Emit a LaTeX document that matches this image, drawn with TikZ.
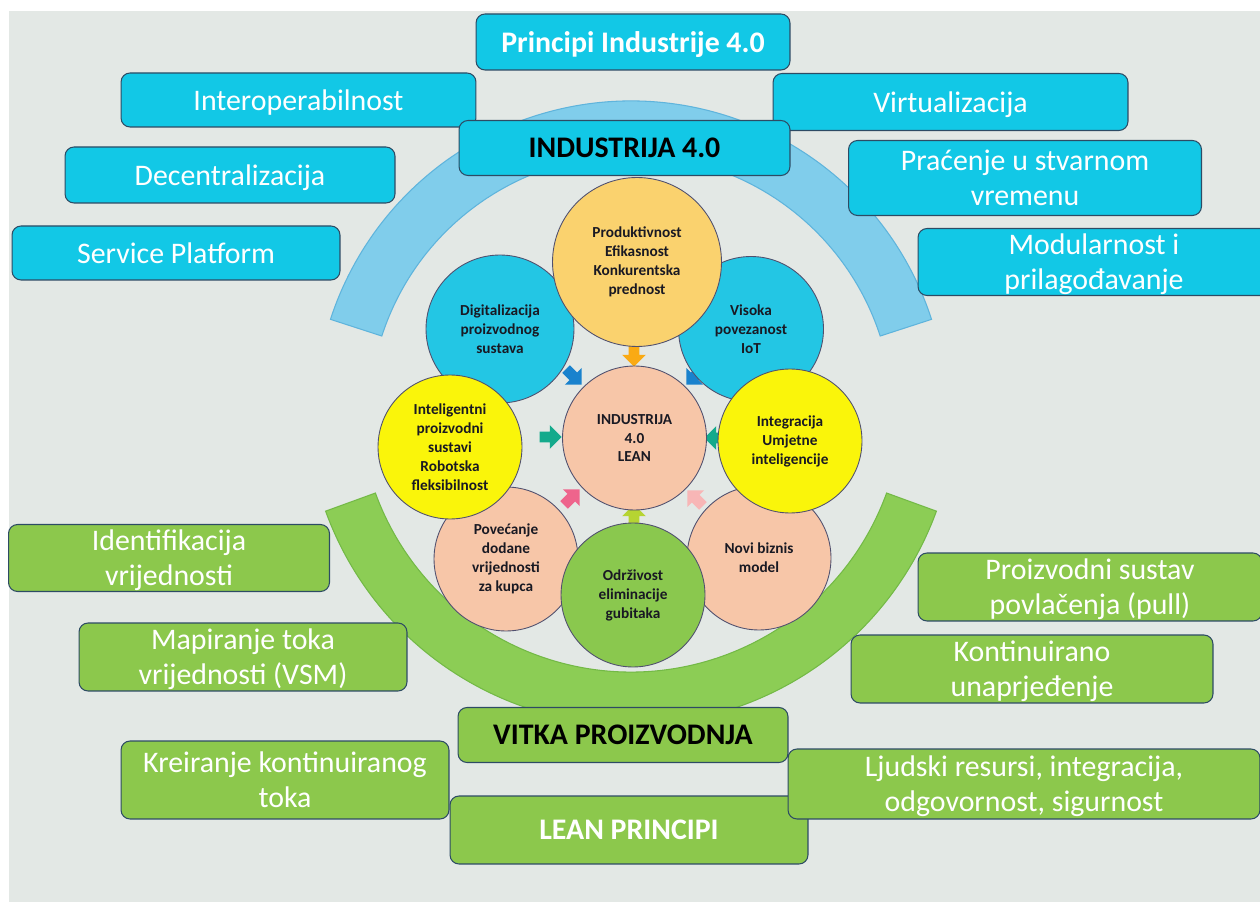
\documentclass[tikz,border=0pt]{standalone}
\usepackage{fontspec}
\setmainfont{Carlito}
\usepackage{tikz}
\usetikzlibrary{shapes.arrows,positioning}
\definecolor{dfbg}{RGB}{227,232,229}
\definecolor{dfcyan}{RGB}{18,200,230}
\definecolor{dfline}{RGB}{45,75,100}
\definecolor{dfgreen}{RGB}{140,200,76}
\definecolor{dfarcblue}{RGB}{128,205,235}
\definecolor{dfarcblueline}{RGB}{95,180,220}
\definecolor{dfarcgreen}{RGB}{140,205,85}
\definecolor{dfarcgreenline}{RGB}{115,185,70}
\definecolor{dforange}{RGB}{250,210,110}
\definecolor{dfskyblue}{RGB}{35,198,228}
\definecolor{dfyellow}{RGB}{250,245,10}
\definecolor{dfpeach}{RGB}{247,198,168}
\definecolor{dfleaf}{RGB}{138,200,78}
\definecolor{dfcircline}{RGB}{80,80,110}
\definecolor{dftxt}{RGB}{25,25,35}
\definecolor{dfarrorange}{RGB}{250,170,20}
\definecolor{dfarrblue}{RGB}{25,130,205}
\definecolor{dfarrteal}{RGB}{20,170,140}
\definecolor{dfarrpink}{RGB}{238,100,140}
\definecolor{dfarrrose}{RGB}{248,182,182}
\definecolor{dfarrlime}{RGB}{182,212,50}
\tikzstyle{cyanbox} = [rectangle, rounded corners=0.18cm, draw=dfline, line width=0.6pt, fill=dfcyan, text=white, align=center, inner sep=0pt, text depth=0pt, font=\fontsize{17}{19.8}\selectfont]
\tikzstyle{greenbox} = [cyanbox, fill=dfgreen]
\tikzstyle{bubble} = [circle, draw=dfcircline, line width=0.5pt, inner sep=0pt, align=center, text=dftxt, font=\fontsize{8.7}{10.8}\selectfont\bfseries, minimum size=2.88cm]
\tikzstyle{pointer} = [single arrow, draw=none, inner sep=0.1cm, minimum height=0.44cm, single arrow head extend=0.13cm]

\begin{document}
\begin{tikzpicture}[x=0.02cm, y=0.02cm]
    \useasboundingbox (0,0) rectangle (1260,903);

    % Background
    \fill[white] (0,0) rectangle (1260,903);
    \fill[dfbg] (9,1) rectangle (1260,892);

    % Arcs
    \begin{scope}[shift={(631,486)}]
        \filldraw[fill=dfarcblue, draw=dfarcblueline, line width=0.6pt]
            (18:316) arc (18:162:316) -- (162:262) arc (162:18:262) -- cycle;
    \end{scope}
    \begin{scope}[shift={(631,503)}]
        \filldraw[fill=dfarcgreen, draw=dfarcgreenline, line width=0.6pt]
            (200:325) arc (200:340:325) -- (340:272) arc (340:200:272) -- cycle;
    \end{scope}

    % Industrija 4.0 boxes
    \node[cyanbox, minimum width=6.28cm, minimum height=1.12cm, font=\fontsize{17}{19.8}\selectfont\bfseries] (princ) at (633,861) {Principi Industrije 4.0};
    \node[cyanbox, minimum width=7.1cm, minimum height=1.08cm] (interop) at (298.5,803) {Interoperabilnost};
    \node[cyanbox, minimum width=7.1cm, minimum height=1.14cm] (virt) at (950.5,801) {Virtualizacija};
    \node[cyanbox, minimum width=6.62cm, minimum height=1.1cm, text=black, font=\fontsize{17}{19.8}\selectfont\bfseries] (ind) at (624.5,755) {INDUSTRIJA 4.0};
    \node[cyanbox, minimum width=6.6cm, minimum height=1.12cm] (decen) at (230,728) {Decentralizacija};
    \node[cyanbox, minimum width=7.06cm, minimum height=1.5cm] (prac) at (1025,725) {Praćenje u stvarnom\\vremenu};
    \node[cyanbox, minimum width=6.56cm, minimum height=1.08cm] (servp) at (176,650) {Service Platform};
    \node[cyanbox, minimum width=7.04cm, minimum height=1.34cm] (modul) at (1094,641) {Modularnost i\\prilagođavanje};

    % Lean boxes
    \node[greenbox, minimum width=6.42cm, minimum height=1.34cm] (ident) at (169,345) {Identifikacija\\vrijednosti};
    \node[greenbox, minimum width=6.88cm, minimum height=1.36cm] (proiz) at (1090,316) {Proizvodni sustav\\povlačenja (pull)};
    \node[greenbox, minimum width=6.56cm, minimum height=1.36cm] (mapir) at (243,246) {Mapiranje toka\\vrijednosti (VSM)};
    \node[greenbox, minimum width=7.24cm, minimum height=1.36cm] (kontin) at (1032,234) {Kontinuirano\\unaprjeđenje};
    \node[greenbox, minimum width=6.6cm, minimum height=1.1cm, text=black, font=\fontsize{17}{19.8}\selectfont\bfseries] (vitka) at (623,168) {VITKA PROIZVODNJA};
    \node[greenbox, minimum width=6.56cm, minimum height=1.56cm] (kreir) at (285,123) {Kreiranje kontinuiranog\\toka};
    \node[greenbox, minimum width=7.16cm, minimum height=1.36cm, font=\fontsize{17}{19.8}\selectfont\bfseries] (lean) at (629,73) {LEAN PRINCIPI};
    \node[greenbox, minimum width=9.44cm, minimum height=1.4cm] (ljud) at (1024,119) {Ljudski resursi, integracija,\\odgovornost, sigurnost};

    % Small arrows towards the centre
    \node[pointer, fill=dfarrorange, rotate=270] (parr) at (634,550) {};
    \node[pointer, fill=dfarrblue, rotate=315] (darr) at (572,528) {};
    \node[pointer, fill=dfarrblue, rotate=225] (varr) at (696,528) {};
    \node[pointer, fill=dfarrteal, rotate=0] (iarr) at (548,466) {};
    \node[pointer, fill=dfarrteal, rotate=180] (garr) at (718,465) {};
    \node[pointer, fill=dfarrpink, rotate=45] (carr) at (570,404) {};
    \node[pointer, fill=dfarrrose, rotate=135] (narr) at (697,403) {};
    \node[pointer, fill=dfarrlime, rotate=90] (oarr) at (634,385) {};

    % Circles
    \node[bubble, fill=dfskyblue, minimum size=2.96cm] (digit) at (500,574) {Digitalizacija\\proizvodnog\\sustava};
    \node[bubble, fill=dfskyblue, minimum size=2.9cm] (visoka) at (751,574) {Visoka\\povezanost\\IoT};
    \node[bubble, fill=dforange, minimum size=3.38cm] (prod) at (637,641) {Produktivnost\\Efikasnost\\Konkurentska\\prednost};
    \node[bubble, fill=dfpeach] (centar) at (634.5,465) {INDUSTRIJA\\4.0\\LEAN};
    \node[bubble, fill=dfpeach] (povec) at (506,344) {Povećanje\\dodane\\vrijednosti\\za kupca};
    \node[bubble, fill=dfpeach] (novi) at (759,345) {Novi biznis\\model};
    \node[bubble, fill=dfleaf] (odrz) at (633,308) {Održivost\\eliminacije\\gubitaka};
    \node[bubble, fill=dfyellow] (intel) at (450,456) {Inteligentni\\proizvodni\\sustavi\\Robotska\\fleksibilnost};
    \node[bubble, fill=dfyellow] (integ) at (790,462) {Integracija\\Umjetne\\inteligencije};
\end{tikzpicture}
\end{document}
